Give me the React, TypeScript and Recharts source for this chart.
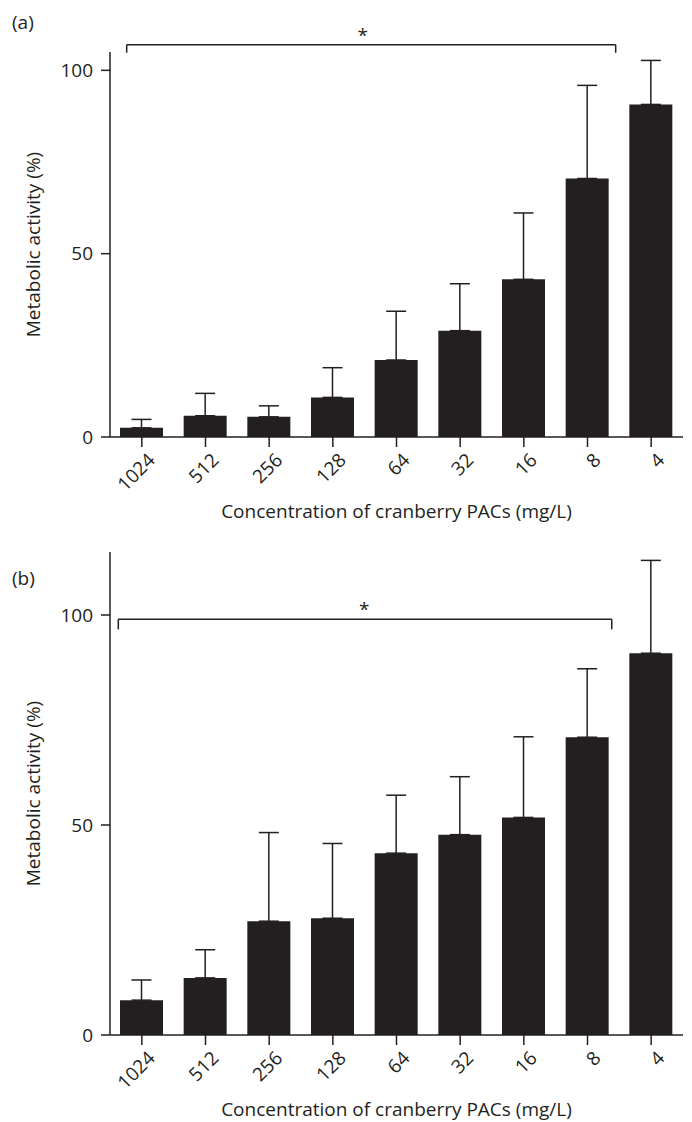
import React from "react";
import {
  BarChart,
  Bar,
  XAxis,
  YAxis,
  ErrorBar,
  ReferenceLine,
  Label,
} from "recharts";

const concentrations = ["1024", "512", "256", "128", "64", "32", "16", "8", "4"];

// panel (a)
const meanA = [2.5, 5.8, 5.5, 10.8, 21.0, 29.0, 43.0, 70.5, 90.7];
const sdA = [2.3, 6.1, 3.0, 8.1, 13.3, 12.8, 18.1, 25.4, 12.0];

// panel (b)
const meanB = [8.3, 13.6, 27.1, 27.8, 43.3, 47.7, 51.8, 70.9, 90.9];
const sdB = [4.8, 6.7, 21.1, 17.8, 13.8, 13.8, 19.2, 16.3, 22.1];

const yTicks = [0, 50, 100];

const INK = "#231f20";
const FONT = "'Open Sans', sans-serif";
const FS = 19;

const build = (mean: number[], sd: number[]) =>
  concentrations.map((c, i) => ({ conc: c, mean: mean[i], err: [0, sd[i]] }));

const ConcTick = (props: any) => {
  const { x, y, payload } = props;
  return (
    <g transform={`translate(${x + 5},${y + 3})`}>
      <text
        textAnchor="end"
        transform="rotate(-45)"
        dy="0.7em"
        fontSize={FS}
        fill={INK}
        fontFamily={FONT}
      >
        {payload.value}
      </text>
    </g>
  );
};

type PanelProps = {
  mean: number[];
  sd: number[];
  yMax: number;
  height: number;
  top: number;
  bottom: number;
  bracket: { from: number; to: number; y: number; drop: number; star: number };
};

function Panel({ mean, sd, yMax, height, top, bottom, bracket }: PanelProps) {
  const data = build(mean, sd);
  const line = { stroke: INK, strokeWidth: 1.5 };
  return (
    <BarChart
      width={692}
      height={height}
      data={data}
      margin={{ top, right: 9, left: 50, bottom: 0 }}
      style={{ fontFamily: FONT }}
    >
      <XAxis
        xAxisId="cat"
        dataKey="conc"
        interval={0}
        height={height - bottom}
        tickSize={10}
        tickMargin={2}
        axisLine={line}
        tickLine={line}
        tick={<ConcTick />}
      >
        <Label
          content={(p: any) => {
            const vb = p.viewBox;
            return (
              <text
                x={vb.x + vb.width / 2}
                y={vb.y + 81}
                textAnchor="middle"
                fontSize={FS}
                fill={INK}
                fontFamily={FONT}
              >
                Concentration of cranberry PACs (mg/L)
              </text>
            );
          }}
        />
      </XAxis>
      <XAxis xAxisId="pos" type="number" domain={[0, 8]} allowDataOverflow hide />
      <YAxis
        domain={[0, yMax]}
        ticks={yTicks}
        allowDataOverflow
        width={60}
        tickSize={9}
        tickMargin={8}
        axisLine={line}
        tickLine={line}
        tick={{ fontSize: FS, fill: INK, fontFamily: FONT }}
      >
        <Label
          content={(p: any) => {
            const vb = p.viewBox;
            const cy = vb.y + vb.height / 2;
            return (
              <text
                x={33}
                y={cy}
                transform={`rotate(-90 33 ${cy})`}
                textAnchor="middle"
                dominantBaseline="central"
                fontSize={FS}
                fill={INK}
                fontFamily={FONT}
              >
                Metabolic activity (%)
              </text>
            );
          }}
        />
      </YAxis>
      <Bar
        xAxisId="cat"
        dataKey="mean"
        fill={INK}
        barSize={43}
        isAnimationActive={false}
      >
        <ErrorBar
          dataKey="err"
          direction="y"
          width={10}
          stroke={INK}
          strokeWidth={1.5}
          isAnimationActive={false}
        />
      </Bar>
      <ReferenceLine
        xAxisId="pos"
        ifOverflow="visible"
        segment={[
          { x: bracket.from, y: bracket.y },
          { x: bracket.to, y: bracket.y },
        ]}
        stroke={INK}
        strokeWidth={1.5}
      />
      <ReferenceLine
        xAxisId="pos"
        ifOverflow="visible"
        segment={[
          { x: bracket.star, y: bracket.y },
          { x: bracket.star, y: bracket.y },
        ]}
        stroke="none"
        label={{ value: "*", position: "top", offset: 3, fontSize: FS, fill: INK }}
      />
      <ReferenceLine
        xAxisId="pos"
        ifOverflow="visible"
        segment={[
          { x: bracket.from, y: bracket.y },
          { x: bracket.from, y: bracket.y - bracket.drop },
        ]}
        stroke={INK}
        strokeWidth={1.5}
      />
      <ReferenceLine
        xAxisId="pos"
        ifOverflow="visible"
        segment={[
          { x: bracket.to, y: bracket.y },
          { x: bracket.to, y: bracket.y - bracket.drop },
        ]}
        stroke={INK}
        strokeWidth={1.5}
      />
    </BarChart>
  );
}

export default function App() {
  const tag: React.CSSProperties = {
    position: "absolute",
    left: 12,
    fontFamily: FONT,
    fontSize: FS,
    color: INK,
    lineHeight: "20px",
  };
  return (
    <div
      style={{
        position: "absolute",
        left: 0,
        top: 0,
        width: 692,
        height: 1122,
        background: "#fff",
        overflow: "hidden",
      }}
    >
      <div style={{ ...tag, top: 12 }}>(a)</div>
      <div style={{ ...tag, top: 568 }}>(b)</div>
      <div style={{ position: "absolute", left: 0, top: 0 }}>
        <Panel
          mean={meanA}
          sd={sdA}
          yMax={105}
          height={540}
          top={52}
          bottom={437}
          bracket={{ from: 0.233, to: 7.06, y: 107, drop: 2.2, star: 3.53 }}
        />
      </div>
      <div style={{ position: "absolute", left: 0, top: 540 }}>
        <Panel
          mean={meanB}
          sd={sdB}
          yMax={115}
          height={582}
          top={12}
          bottom={495}
          bracket={{ from: 0.116, to: 7.005, y: 99, drop: 2.4, star: 3.55 }}
        />
      </div>
    </div>
  );
}
